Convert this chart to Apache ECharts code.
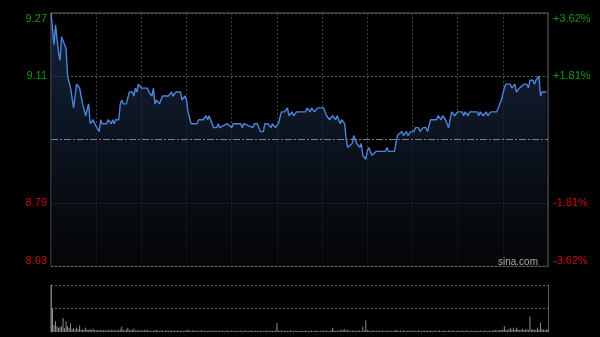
<!DOCTYPE html>
<html><head><meta charset="utf-8">
<script src="https://cdn.jsdelivr.net/npm/echarts@6/dist/echarts.min.js"></script>
<style>html,body{margin:0;padding:0;background:#000;}#c{width:600px;height:337px;}</style>
</head><body><div id="c"></div>
<script>
// minutes from the open (0..330) and prices
const priceMinutes = [0,2,3,5,6,7,9,10,11,13,15,16,17,19,20,21,23,24,25,26,28,29,30,32,33,34,37,38,40,41,42,43,45,46,47,48,50,52,54,55,56,57,58,60,64,65,67,68,69,70,72,74,78,80,81,83,86,87,89,90,91,93,97,98,101,103,104,105,106,108,110,111,112,117,118,120,121,126,127,128,134,135,137,139,141,142,144,146,147,149,151,153,155,157,158,160,161,163,169,170,172,173,175,177,181,183,185,187,189,190,192,193,195,196,197,200,201,203,205,206,207,209,210,211,213,214,216,222,223,224,228,230,231,233,234,236,237,239,241,242,244,245,247,249,250,252,256,257,259,260,262,263,264,266,268,270,273,274,275,277,278,283,284,285,287,289,290,292,296,298,299,301,302,305,306,308,309,311,312,314,316,317,318,320,321,322,324,325,326,329];
const prices = [9.27,9.19,9.24,9.17,9.15,9.21,9.19,9.18,9.11,9.08,9.03,9.06,9.09,9.08,9.06,9.04,9.01,9.01,9.04,8.99,9.00,8.99,8.99,8.97,9.00,8.99,8.99,9.00,8.99,9.00,8.99,9.00,9.00,9.04,9.05,9.04,9.04,9.07,9.07,9.06,9.08,9.07,9.09,9.08,9.08,9.07,9.06,9.08,9.04,9.05,9.04,9.06,9.06,9.07,9.06,9.07,9.07,9.05,9.06,9.05,9.02,8.99,8.99,9.00,9.00,9.01,9.00,9.01,9.00,8.98,8.98,8.99,8.98,8.99,8.99,8.98,8.99,8.99,8.98,8.99,8.98,8.99,8.99,8.97,8.97,8.99,8.99,8.98,8.99,8.98,8.99,9.02,9.02,9.03,9.01,9.02,9.01,9.02,9.02,9.03,9.02,9.03,9.02,9.03,9.03,9.01,9.00,9.01,9.00,9.01,8.99,9.00,8.99,8.95,8.93,8.94,8.96,8.94,8.93,8.94,8.91,8.90,8.92,8.93,8.91,8.91,8.92,8.92,8.93,8.92,8.92,8.96,8.96,8.97,8.96,8.97,8.96,8.97,8.97,8.98,8.98,8.97,8.98,8.98,8.97,9.00,9.00,9.01,9.00,9.01,9.00,8.99,8.98,9.02,9.01,9.02,9.02,9.01,9.02,9.01,9.02,9.02,9.01,9.02,9.01,9.02,9.01,9.02,9.02,9.04,9.05,9.08,9.09,9.09,9.08,9.09,9.07,9.08,9.08,9.09,9.09,9.08,9.10,9.10,9.09,9.10,9.11,9.06,9.07,9.07];
// volume per minute, relative units (100 = tallest bar)
const volumes = [
100,51,15,23,12,9,10,12,30,8,23,12,9,18,6,8,5,9,6,14,5,6,4,9,5,4,6,4,7,4,
3,4,3,5,3,4,3,3,4,3,5,3,4,3,3,4,6,11,4,3,5,9,4,3,5,7,3,3,4,3,
3,3,4,3,5,3,3,2,3,3,4,3,2,3,3,2,3,3,2,3,3,2,3,2,3,3,2,3,2,3,
3,4,3,2,3,3,2,3,2,3,3,2,3,2,2,3,2,3,2,3,2,2,3,2,3,2,2,3,2,2,
3,2,2,3,2,2,3,2,2,3,2,2,2,3,2,2,3,2,2,3,2,2,2,3,2,2,3,2,2,3,
19,3,2,3,2,2,3,2,2,3,2,2,3,2,2,2,3,2,2,3,2,2,2,3,2,2,3,2,2,2,
3,2,2,3,2,2,3,9,3,2,3,2,5,3,4,6,3,4,3,2,3,2,3,2,3,3,2,11,3,25,
4,3,2,3,3,2,3,2,3,2,3,2,2,3,2,3,2,2,3,4,3,2,3,2,3,2,2,3,2,3,
2,3,2,2,3,2,2,3,2,3,2,2,3,2,2,3,2,2,3,2,2,3,2,2,3,2,2,3,2,2,
3,2,2,3,2,2,3,2,2,3,2,2,3,2,2,3,2,2,3,2,2,3,2,3,3,4,3,3,4,5,
4,12,5,4,6,9,5,9,4,9,6,4,5,7,4,5,6,4,33,5,6,5,4,9,5,19,6,5,4,5,6];
const prevClose = 8.95;
const yMin = 8.63, yMax = 9.27, yStep = 0.16;
const leftTickLabels = ['8.63','8.79','','9.11','9.27'];
const rightTickLabels = ['-3.62%','-1.81%','','+1.81%','+3.62%'];
const sessionMinutes = 330;

const priceData = priceMinutes.map((m, i) => [m, prices[i]]);
const volData = volumes.map((v, i) => [i, v]);

function tickIdx(v) { return Math.round((v - yMin) / yStep); }
function labelFmt(arr) {
  return function (v) {
    const i = tickIdx(v);
    const t = arr[i];
    if (!t) return '';
    return (i > 2 ? '{u|' : '{d|') + t + '}';
  };
}
const rich = {
  u: { color: '#119911', fontSize: 11, fontFamily: 'Liberation Sans, Arial, sans-serif' },
  d: { color: '#cc0d0d', fontSize: 11, fontFamily: 'Liberation Sans, Arial, sans-serif' }
};

const chart = echarts.init(document.getElementById('c'), null, { renderer: 'canvas' });
chart.setOption({
  backgroundColor: '#000',
  animation: false,
  grid: [
    { left: 51, right: 52, top: 13, height: 253, show: true, borderColor: '#5e5e5e', borderWidth: 1, backgroundColor: 'transparent' },
    { left: 51, right: 52, top: 285, height: 47, show: false }
  ],
  xAxis: [
    { gridIndex: 0, type: 'value', min: 0, max: sessionMinutes, interval: 30,
      axisLine: { show: false }, axisTick: { show: false }, axisLabel: { show: false },
      splitLine: { show: true, lineStyle: { color: '#424242', type: [2, 2], width: 1 } } },
    { gridIndex: 1, type: 'value', min: 0, max: sessionMinutes, interval: 30,
      axisLine: { show: false }, axisTick: { show: false }, axisLabel: { show: false },
      splitLine: { show: false } }
  ],
  yAxis: [
    { gridIndex: 0, type: 'value', min: yMin, max: yMax, interval: yStep,
      axisLine: { show: false }, axisTick: { show: false },
      axisLabel: { formatter: labelFmt(leftTickLabels), rich: rich, margin: 4,
        verticalAlignMaxLabel: 'top', verticalAlignMinLabel: 'bottom' },
      splitLine: { show: true, lineStyle: { color: ['#5e5e5e', '#5e5e5e', 'transparent', '#5e5e5e', '#5e5e5e'], type: [2, 2] } } },
    { gridIndex: 0, type: 'value', min: yMin, max: yMax, interval: yStep, position: 'right',
      axisLine: { show: false }, axisTick: { show: false },
      axisLabel: { formatter: labelFmt(rightTickLabels), rich: rich, margin: 5,
        verticalAlignMaxLabel: 'top', verticalAlignMinLabel: 'bottom' },
      splitLine: { show: false } },
    { gridIndex: 1, type: 'value', min: 0, max: 100, interval: 50,
      axisLine: { show: true, lineStyle: { color: '#5e5e5e' } }, axisTick: { show: false }, axisLabel: { show: false },
      splitLine: { show: true, lineStyle: { color: ['transparent', '#5e5e5e', '#5e5e5e'], type: [2, 2] } } },
    { gridIndex: 1, type: 'value', min: 0, max: 100, interval: 50, position: 'right',
      axisLine: { show: true, lineStyle: { color: '#5e5e5e' } }, axisTick: { show: false }, axisLabel: { show: false },
      splitLine: { show: false } }
  ],
  series: [
    { type: 'line', xAxisIndex: 0, yAxisIndex: 0, data: priceData, showSymbol: false, symbol: 'none',
      lineStyle: { color: '#4d84da', width: 1.4 },
      areaStyle: { origin: 'start', color: new echarts.graphic.LinearGradient(0, 0, 0, 1, [
        { offset: 0, color: '#1d3152' }, { offset: 1, color: '#060709' }]) },
      markLine: { silent: true, symbol: 'none', label: { show: false },
        lineStyle: { color: '#76808c', type: [7, 2, 2, 2], width: 1 },
        data: [{ yAxis: prevClose }] },
      z: 3 },
    { type: 'bar', xAxisIndex: 1, yAxisIndex: 2, data: volData, barWidth: 1,
      itemStyle: { color: '#8e8e8e' }, z: 3 }
  ],
  graphic: [
    { type: 'text', right: 62, top: 257, style: { text: 'sina.com', fill: '#aaaaaa', fontSize: 10, fontFamily: 'Liberation Sans, Arial, sans-serif' }, z: 10 }
  ]
});
</script>
</body></html>
